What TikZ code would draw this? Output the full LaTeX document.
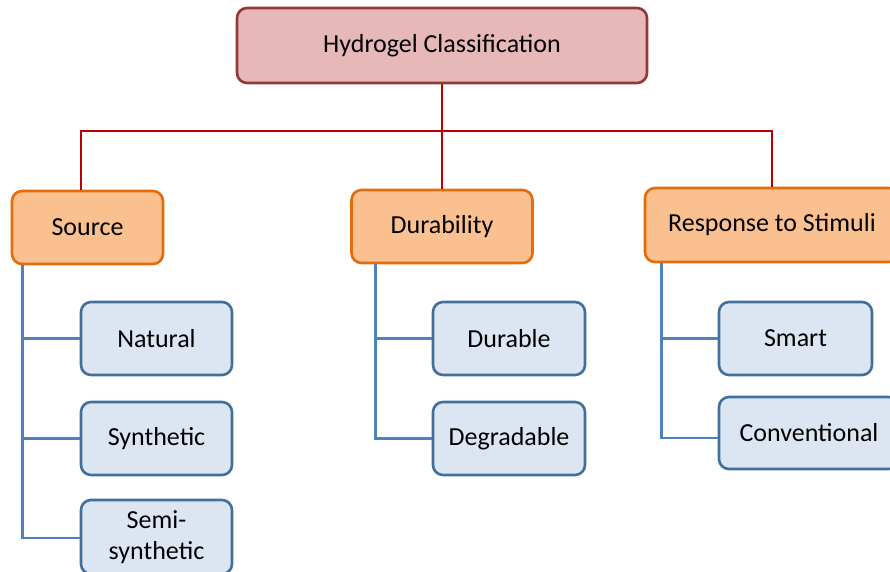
\documentclass[tikz,border=0pt]{standalone}
\usepackage{fontspec}
\setmainfont{Carlito}
\definecolor{topfill}{HTML}{E6B8B7}
\definecolor{topline}{HTML}{953735}
\definecolor{redline}{HTML}{C00000}
\definecolor{orfill}{HTML}{FAC090}
\definecolor{orline}{HTML}{E46C0A}
\definecolor{blfill}{HTML}{DCE6F2}
\definecolor{blline}{HTML}{41709C}
\definecolor{blconn}{HTML}{4F81BD}
\tikzset{
  box/.style={rounded corners=10pt, line width=2.6pt, align=center, inner sep=0pt,
    font=\fontsize{26}{31}\selectfont, text=black},
  topbox/.style={box, fill=topfill, draw=topline},
  catbox/.style={box, fill=orfill, draw=orline},
  leafbox/.style={box, fill=blfill, draw=blline},
  redconn/.style={draw=redline, line width=2.8pt},
  blueconn/.style={draw=blconn, line width=2.8pt},
}
\begin{document}
\begin{tikzpicture}[x=1pt,y=-1pt]
\useasboundingbox (0,0) rectangle (890,571);
\clip (0,0) rectangle (890,571);
\fill[white] (0,0) rectangle (890,571);
% nodes
\node[topbox, minimum width=410pt, minimum height=75pt] (top) at (442,45.5) {Hydrogel Classification};
\node[catbox, minimum width=151pt, minimum height=73pt] (src) at (87.5,227.5) {Source};
\node[catbox, minimum width=181pt, minimum height=73pt] (dur) at (442,226.5) {Durability};
\node[catbox, minimum width=254pt, minimum height=74pt] (resp) at (772,225) {Response to Stimuli};
\node[leafbox, minimum width=151pt, minimum height=73pt] (nat) at (156.5,338.5) {Natural};
\node[leafbox, minimum width=151pt, minimum height=73pt] (syn) at (156.5,438.5) {Synthetic};
\node[leafbox, minimum width=151pt, minimum height=74pt] (semi) at (156.5,537) {Semi-\\synthetic};
\node[leafbox, minimum width=152pt, minimum height=73pt] (durable) at (509,338.5) {Durable};
\node[leafbox, minimum width=152pt, minimum height=73pt] (degr) at (509,438.5) {Degradable};
\node[leafbox, minimum width=153pt, minimum height=73pt] (smart) at (795.5,338.5) {Smart};
\node[leafbox, minimum width=180pt, minimum height=72pt] (conv) at (809,433) {Conventional};
% red connectors
\coordinate (bus) at (442,131);
\draw[redconn] (top.south) -- (bus);
\draw[redconn] ([xshift=-6.5pt]src.north) |- (bus) -| (resp.north);
\draw[redconn] (bus) -- (dur.north);
% blue connectors
\draw[blueconn] ([xshift=12pt]src.south west) |- (nat.west);
\draw[blueconn] ([xshift=12pt]src.south west) |- (syn.west);
\draw[blueconn] ([xshift=12pt]src.south west) |- ([yshift=-1pt]semi.west);
\draw[blueconn] ([xshift=25pt]dur.south west) |- (durable.west);
\draw[blueconn] ([xshift=25pt]dur.south west) |- (degr.west);
\draw[blueconn] ([xshift=18pt]resp.south west) |- (smart.west);
\draw[blueconn] ([xshift=18pt]resp.south west) |- ([yshift=-5pt]conv.west);
\end{tikzpicture}
\end{document}
